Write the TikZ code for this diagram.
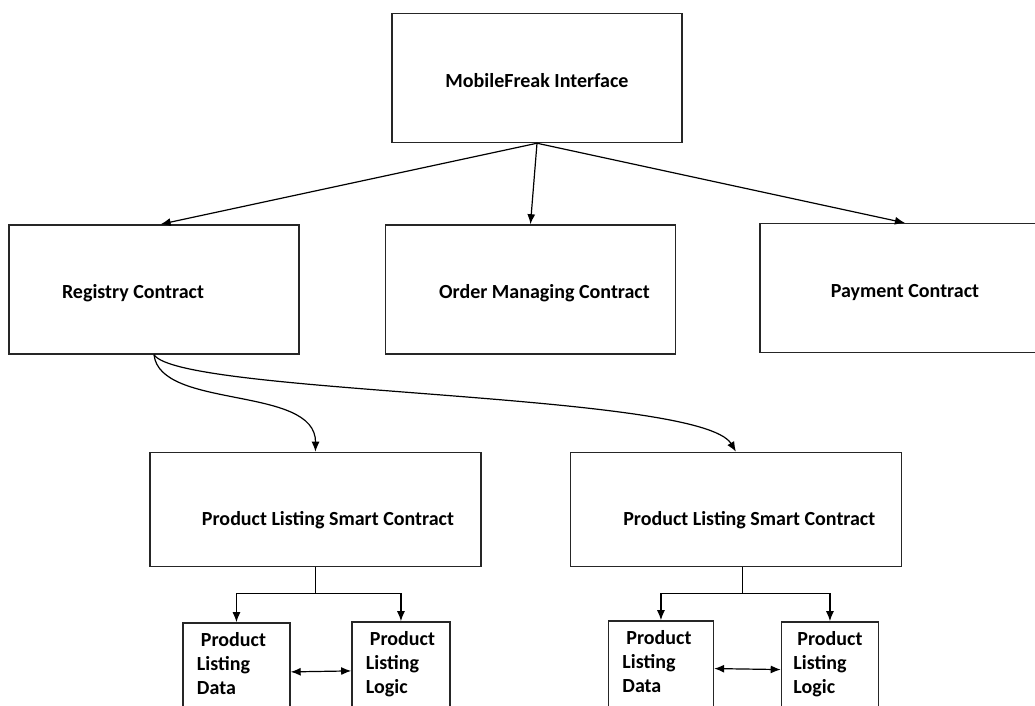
\documentclass[tikz,border=0pt]{standalone}
\usepackage{fontspec}
\setmainfont{Carlito}
\usepackage{tikz}
\usetikzlibrary{arrows.meta, positioning}

\begin{document}
\hyphenpenalty=10000
\begin{tikzpicture}[
        x=0.75pt, y=-0.75pt,
        box/.style={rectangle, draw=black!85, line width=1.1pt, inner sep=0pt, minimum width=217.5pt, minimum height=96.75pt, text height=14pt, text depth=0pt, font=\fontsize{15}{18}\selectfont\bfseries},
        widebox/.style={box, minimum width=248.25pt, minimum height=85.5pt, text height=24pt},
        smallbox/.style={rectangle, draw=black!85, line width=1.1pt, inner xsep=10.5pt, inner ysep=0pt, minimum height=67.5pt, text height=12pt, text depth=44pt, align=left, font=\fontsize{15}{18}\selectfont\bfseries},
        relation/.style={-{Latex[length=7.5pt, width=6pt]}, line width=0.9pt},
        bothways/.style={{Latex[length=7.5pt, width=6pt]}-{Latex[length=7.5pt, width=6pt]}, line width=0.9pt}
        ]
        \useasboundingbox (0,0) rectangle (1035,706);
        \clip (0,0) rectangle (1035,706);

        % Interface and contracts
        \node[box] (iface) at (537,78) {MobileFreak Interface};

        \node[box, below=60.75pt of iface, xshift=-4.9pt] (order) {\hspace*{21pt}Order Managing Contract};

        \node[box, left=63.75pt of order] (registry) {Registry Contract\hspace*{31.5pt}};

        \node[box, right=62.25pt of order, yshift=1pt] (payment) {Payment Contract};

        % Product listing contracts
        \node[widebox, below=72.75pt of registry, xshift=121.1pt] (plsc1) {\hspace*{18.75pt}Product Listing Smart Contract};

        \node[widebox, right=66pt of plsc1] (plsc2) {\hspace*{20pt}Product Listing Smart Contract};

        \node[smallbox, text width=59.25pt, below=41.25pt of plsc1, xshift=-59.25pt] (data1) {\hspace*{3pt}Product\\Listing\\Data};

        \node[smallbox, text width=52.5pt, below=40.5pt of plsc1, xshift=64.1pt] (logic1) {\hspace*{3pt}Product\\Listing\\Logic};

        \node[smallbox, text width=57.75pt, below=39.75pt of plsc2, xshift=-56.25pt] (data2) {\hspace*{3pt}Product\\Listing\\Data};

        \node[smallbox, inner xsep=9pt, text width=54.75pt, below=40.5pt of plsc2, xshift=70.5pt] (logic2) {\hspace*{3pt}Product\\Listing\\Logic};

        % Relations
        \draw[relation] (iface.south) -- ([xshift=5pt]registry.north);
        \draw[relation] (iface.south) -- (order.north);
        \draw[relation] (iface.south) -- (payment.north);

        \draw[relation] (registry.south) .. controls (160,410) and (316,385) .. (plsc1.north);
        \draw[relation] (registry.south) .. controls (180,395) and (700,392) .. (plsc2.north);

        \draw[relation] (plsc1.south) -- ++(0,26) -| (data1.north);
        \draw[relation] (plsc1.south) -- ++(0,26) -| (logic1.north);
        \draw[relation] ([xshift=5pt]plsc2.south) -- ++(0,26) -| (data2.north);
        \draw[relation] ([xshift=5pt]plsc2.south) -- ++(0,26) -| (logic2.north);

        \draw[bothways] ([yshift=-3pt]data1.east) -- ([yshift=-3pt]logic1.west);
        \draw[bothways] ([yshift=-2pt]data2.east) -- ([yshift=-2pt]logic2.west);
\end{tikzpicture}
\end{document}
